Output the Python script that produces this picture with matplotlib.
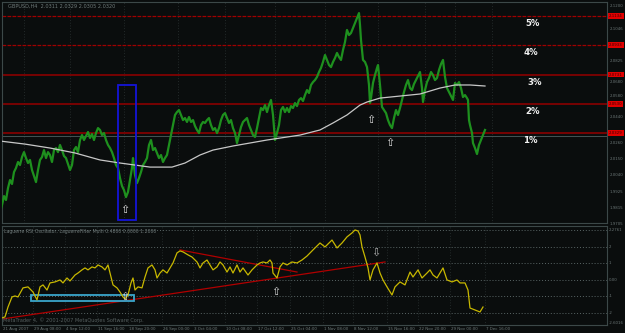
import matplotlib
matplotlib.use("Agg")
import matplotlib.pyplot as plt
from matplotlib.patches import Rectangle

# ---------------- data ----------------
bar_x = [0, 2, 4, 6, 8, 10, 12, 14, 16, 18, 20, 22, 24, 26, 28, 30, 32, 34, 36, 38, 40, 42, 44, 46, 48, 50,
         52, 54, 56, 58, 60, 62, 64, 66, 68, 70, 72, 74, 76, 78, 80, 82, 84, 86, 88, 90, 92, 94, 96, 98, 100,
         102, 104, 106, 108, 110, 112, 114, 116, 118, 120, 122, 124, 126, 128, 130, 132, 133, 135, 137, 139,
         141, 143, 145, 147, 149, 151, 153, 155, 157, 159, 161, 163, 165, 167, 169, 171, 173, 175, 177, 179,
         181, 183, 185, 187, 189, 191, 193, 195, 197, 199, 201, 203, 205, 207, 209, 211, 213, 215, 217, 219,
         221, 223, 225, 227, 229, 231, 233, 235, 237, 239, 241, 243, 245, 247, 249, 251, 253, 255, 257, 259,
         261, 263, 265, 267, 269, 271, 273, 275, 277, 279, 281, 283, 285, 287, 289, 291, 293, 295, 297, 299,
         301, 303, 305, 307, 309, 311, 313, 315, 317, 319, 321, 323, 325, 327, 329, 331, 333, 335, 337, 339,
         341, 343, 345, 347, 349, 351, 353, 355, 357, 359, 360, 361, 362, 363, 365, 367, 369, 370, 371, 373,
         375, 377, 378, 380, 382, 384, 386, 388, 390, 392, 394, 396, 398, 400, 402, 404, 406, 408, 410, 412,
         414, 416, 418, 420, 422, 423, 425, 427, 429, 431, 433, 435, 437, 439, 441, 443, 445, 447, 449, 451,
         453, 455, 457, 459, 461, 463, 465, 467, 468, 469, 470, 472, 473, 475, 477, 479, 481, 483, 485]
price = [1.9786, 1.9834, 1.9896, 1.9869, 1.9951, 2.0006, 1.9979, 2.0061, 2.0089, 2.0130, 2.0109, 2.0164,
         2.0198, 2.0157, 2.0123, 2.0144, 2.0075, 2.0034, 1.9992, 2.0075, 2.0144, 2.0164, 2.0212, 2.0157,
         2.0198, 2.0178, 2.0130, 2.0212, 2.0226, 2.0198, 2.0247, 2.0212, 2.0171, 2.0157, 2.0116, 2.0075,
         2.0109, 2.0212, 2.0233, 2.0198, 2.0281, 2.0315, 2.0281, 2.0308, 2.0336, 2.0295, 2.0322, 2.0281,
         2.0329, 2.0363, 2.0350, 2.0315, 2.0329, 2.0281, 2.0247, 2.0226, 2.0198, 2.0157, 2.0109, 2.0089,
         2.0020, 1.9965, 1.9937, 1.9889, 1.9924, 2.0006, 2.0089, 2.0157, 2.0040, 1.9985, 2.0020, 2.0061,
         2.0109, 2.0130, 2.0157, 2.0247, 2.0281, 2.0212, 2.0226, 2.0192, 2.0157, 2.0178, 2.0130, 2.0157,
         2.0178, 2.0247, 2.0315, 2.0384, 2.0453, 2.0473, 2.0487, 2.0453, 2.0418, 2.0432, 2.0405, 2.0439,
         2.0405, 2.0418, 2.0377, 2.0350, 2.0329, 2.0384, 2.0405, 2.0398, 2.0418, 2.0432, 2.0384, 2.0350,
         2.0363, 2.0329, 2.0363, 2.0418, 2.0453, 2.0466, 2.0432, 2.0398, 2.0418, 2.0363, 2.0329, 2.0260,
         2.0315, 2.0370, 2.0405, 2.0418, 2.0432, 2.0384, 2.0350, 2.0315, 2.0302, 2.0363, 2.0432, 2.0501,
         2.0487, 2.0521, 2.0473, 2.0521, 2.0556, 2.0453, 2.0281, 2.0329, 2.0384, 2.0487, 2.0508, 2.0473,
         2.0501, 2.0473, 2.0514, 2.0501, 2.0535, 2.0514, 2.0556, 2.0569, 2.0549, 2.0590, 2.0624, 2.0604,
         2.0659, 2.0679, 2.0693, 2.0714, 2.0748, 2.0776, 2.0817, 2.0865, 2.0831, 2.0796, 2.0782, 2.0817,
         2.0844, 2.0879, 2.0851, 2.0831, 2.0899, 2.0954, 2.1037, 2.1002, 2.1016, 2.1050, 2.1085, 2.1119,
         2.1153, 2.1071, 2.0968, 2.0899, 2.0831, 2.0817, 2.0782, 2.0659, 2.0535, 2.0569, 2.0673, 2.0727,
         2.0776, 2.0796, 2.0659, 2.0508, 2.0487, 2.0466, 2.0418, 2.0384, 2.0363, 2.0432, 2.0487, 2.0453,
         2.0501, 2.0556, 2.0611, 2.0659, 2.0693, 2.0638, 2.0624, 2.0666, 2.0693, 2.0721, 2.0748, 2.0638,
         2.0542, 2.0624, 2.0679, 2.0707, 2.0748, 2.0727, 2.0693, 2.0707, 2.0762, 2.0803, 2.0831, 2.0714,
         2.0638, 2.0611, 2.0583, 2.0556, 2.0673, 2.0659, 2.0679, 2.0638, 2.0576, 2.0590, 2.0569, 2.0556,
         2.0418, 2.0384, 2.0329, 2.0260, 2.0226, 2.0185, 2.0247, 2.0281, 2.0315, 2.0350]

ma_x = [0, 25, 50, 75, 100, 120, 135, 150, 172, 185, 200, 213, 233, 267, 300, 320, 333, 347, 360, 367,
        380, 400, 420, 440, 455, 470, 485]
ma_price = [2.0274, 2.0253, 2.0226, 2.0192, 2.0144, 2.0123, 2.0109, 2.0095, 2.0095, 2.0123, 2.0178, 2.0212,
            2.0240, 2.0281, 2.0315, 2.0350, 2.0398, 2.0453, 2.0521, 2.0542, 2.0569, 2.0583, 2.0597, 2.0638,
            2.0659, 2.0659, 2.0652]

pct_labels = ["1%", "2%", "3%", "4%", "5%"]
pct_levels = [2.0329, 2.0530, 2.0731, 2.0933, 2.1134]

osc_x = [2, 5, 8, 12, 15, 18, 23, 28, 33, 37, 40, 43, 47, 50, 55, 60, 63, 67, 70, 75, 78, 82, 85, 88, 92,
         95, 98, 102, 105, 108, 110, 113, 117, 120, 123, 125, 128, 131, 133, 135, 138, 142, 145, 148, 152,
         155, 157, 160, 163, 167, 170, 173, 177, 180, 183, 188, 192, 197, 200, 203, 207, 210, 213, 217, 220,
         223, 227, 230, 233, 237, 240, 243, 248, 252, 257, 260, 263, 267, 270, 272, 273, 277, 280, 283, 287,
         292, 297, 302, 307, 313, 320, 325, 332, 337, 342, 347, 352, 355, 358, 360, 362, 365, 368, 370, 373,
         377, 380, 383, 387, 392, 395, 400, 405, 410, 413, 418, 422, 427, 430, 433, 437, 440, 443, 447, 452,
         457, 460, 465, 468, 470, 475, 480, 483]
osc = [-2.30, -2.24, -1.64, -1.03, -0.97, -1.03, -0.48, -0.42, -0.73, -1.21, -0.42, -0.30, -0.61, -0.18,
       -0.12, 0.00, -0.18, 0.12, -0.06, 0.30, 0.42, 0.61, 0.73, 0.61, 0.79, 0.73, 0.91, 0.79, 0.61, 0.91,
       0.42, -0.30, -0.48, -0.73, -1.03, -1.15, -0.91, -0.18, 0.12, -0.61, -0.42, -0.48, 0.18, 0.73, 0.91,
       0.61, 0.12, 0.42, 0.61, 0.42, 0.73, 1.03, 1.64, 1.76, 1.70, 1.52, 1.39, 1.09, 0.73, 1.03, 1.21, 0.91,
       0.61, 0.79, 1.09, 0.91, 0.48, 0.79, 0.42, 0.91, 0.48, 0.73, 0.30, 0.61, 0.91, 1.03, 1.09, 1.03, 1.21,
       1.03, 0.42, 0.12, 0.79, 1.03, 0.91, 1.09, 1.03, 1.21, 1.45, 1.82, 2.24, 2.00, 2.42, 1.94, 2.24, 2.61,
       2.85, 3.03, 2.97, 2.73, 2.00, 1.39, 0.73, 0.00, 0.61, 1.03, 0.42, 0.00, -0.42, -0.91, -0.42, -0.12,
       -0.30, 0.48, 0.18, 0.61, 0.12, 0.42, 0.61, 0.30, 0.12, 0.42, 0.73, 0.00, -0.12, 0.00, -0.18, -0.18,
       -0.61, -1.70, -1.82, -1.94, -1.64]
osc_levels = [3.0, 2.0, 1.0, 0.0, -1.0, -2.0]
osc_level_labels = ["2.2761", "2", "1", "0.00", "-1", "-2"]

trend1_x = [3, 385]
trend1_y = [-2.36, 1.09]
trend2_x = [180, 297]
trend2_y = [1.82, 0.48]

time_x = [2, 33, 65, 97, 128, 162, 193, 225, 257, 290, 323, 353, 387, 418, 450, 485]
time_labels = ["21 Aug 2007", "29 Aug 08:00", "4 Sep 12:00", "11 Sep 16:00", "18 Sep 20:00",
               "26 Sep 00:00", "3 Oct 04:00", "10 Oct 08:00", "17 Oct 12:00", "25 Oct 04:00",
               "1 Nov 08:00", "8 Nov 12:00", "15 Nov 16:00", "22 Nov 20:00", "29 Nov 00:00", "7 Dec 16:00"]

price_ticks = [2.1200, 2.1046, 2.0825, 2.0680, 2.0580, 2.0440, 2.0260, 2.0150, 2.0040, 1.9925,
               1.9815, 1.9705]

# ---------------- style ----------------
W, H = 625, 333
BG = "#0a0d0d"
GRID = "#3a4444"
FRAME = "#3c4848"

fig = plt.figure(figsize=(W / 100, H / 100), dpi=100, facecolor=BG)


def ax_px(x0, y0, x1, y1):
    return fig.add_axes([x0 / W, 1 - y1 / H, (x1 - x0) / W, (y1 - y0) / H])


# main panel
ax = ax_px(2, 2, 607, 223)
ax.set_facecolor(BG)
ax.set_xlim(2, 607)
ax.set_ylim(1.9711, 2.1229)
for s in ax.spines.values():
    s.set_color(FRAME)
    s.set_linewidth(0.8)
ax.set_xticks([])
ax.set_yticks([])

for gx in [24, 70, 124, 178, 225, 275, 325, 378, 425, 455, 492]:
    ax.axvline(gx, color=GRID, lw=0.5, ls=(0, (1, 3)), zorder=0)

for i, lv in enumerate(pct_levels):
    if i >= 3:
        ax.axhline(lv, color="#a00000", lw=0.9, ls=(0, (3, 1)), zorder=1)
    else:
        ax.axhline(lv, color="#8a0000", lw=1.2, zorder=1)
ax.axhline(2.0308, color="#4f5f5f", lw=0.6, zorder=1)

ax.plot(bar_x, price, color="#1e901e", lw=1.6, zorder=3)
ax.plot(ma_x, ma_price, color="#c8c8c8", lw=0.9, zorder=4)

ax.add_patch(Rectangle((118, 1.9731), 18, 2.0659 - 1.9731, fill=False, ec="#1414d8", lw=1.3, zorder=5))

for (ux, uy) in [(125, 1.9834), (371, 2.0453), (390, 2.0295)]:
    ax.annotate("⇧", (ux, uy), ha="center", va="top", color="#e0e0e0", fontsize=8, zorder=6)

pct_x = [530, 533, 535, 531, 533]
for lab, lv, px in zip(pct_labels, pct_levels, pct_x):
    ax.text(px, lv - 0.0052, lab, color="#f0f0f0", fontsize=6.2, fontweight="bold",
            ha="center", va="center", zorder=6)

fig.text(8 / W, 1 - 6 / H, "GBPUSD,H4  2.0311 2.0329 2.0305 2.0320", color="#6f7a7a",
         fontsize=3.6, va="center", ha="left")

# lower panel
ax2 = ax_px(2, 226, 607, 325)
ax2.set_facecolor(BG)
ax2.set_xlim(2, 607)
ax2.set_ylim(-2.73, 3.27)
for s in ax2.spines.values():
    s.set_color(FRAME)
    s.set_linewidth(0.8)
ax2.set_xticks([])
ax2.set_yticks([])
for lv in osc_levels:
    ax2.axhline(lv, color="#5a6666", lw=0.7, ls=(0, (1, 2)), zorder=0)
for gx in time_x[1:]:
    ax2.axvline(gx, color=GRID, lw=0.5, ls=(0, (1, 3)), zorder=0)

ax2.plot(trend1_x, trend1_y, color="#b00000", lw=0.9, zorder=2)
ax2.plot(trend2_x, trend2_y, color="#b00000", lw=0.9, zorder=2)
ax2.add_patch(Rectangle((31, -1.27), 103, 0.36, fill=False, ec="#3aa6cc", lw=1.3, zorder=3))
ax2.plot(osc_x, osc, color="#c8b800", lw=0.9, zorder=4)

ax2.annotate("⇧", (125, -0.73), ha="center", va="top", color="#d8d8d8", fontsize=8, zorder=6)
ax2.annotate("⇧", (276, -0.42), ha="center", va="top", color="#d8d8d8", fontsize=8, zorder=6)
ax2.annotate("⇩", (376, 1.33), ha="center", va="bottom", color="#b0b0b0", fontsize=8, zorder=6)

fig.text(4 / W, 1 - 231 / H, "Laguerre RSI Oscillator, LaguerreFilter Multi 0.4800 0.0000 1.2000",
         color="#6f7a7a", fontsize=3.3, va="center", ha="left")
fig.text(3 / W, 1 - 320 / H, "MetaTrader 4, © 2001-2007 MetaQuotes Software Corp.",
         color="#555f5f", fontsize=3.6, va="center", ha="left")

# right axis labels
def yfig_price(p):
    return 1 - (2 + (2.1229 - p) / (2.1229 - 1.9711) * 221) / H

for p in price_ticks:
    fig.text(610 / W, yfig_price(p), f"{p:.4f}", color="#6a7575", fontsize=2.8, va="center", ha="left")
for lv in pct_levels:
    fig.text(609 / W, yfig_price(lv), f"{lv:.4f}", color="#3a0000", fontsize=2.8, va="center",
             ha="left", bbox=dict(boxstyle="square,pad=0.2", fc="#e00000", ec="none"))

def yfig_osc(v):
    return 1 - (226 + (3.27 - v) / 6.0 * 99) / H

for lv, lab in zip(osc_levels, osc_level_labels):
    fig.text(609 / W, yfig_osc(lv), lab, color="#6a7575", fontsize=2.8, va="center", ha="left")
fig.text(609 / W, yfig_osc(-2.6), "-2.6016", color="#6a7575", fontsize=2.8, va="center", ha="left")

# time axis
for tx, tl in zip(time_x, time_labels):
    fig.text((tx + 1) / W, 1 - 329 / H, tl, color="#6f7a7a", fontsize=2.9, va="center", ha="left")

fig.savefig("out.png", dpi=100, facecolor=BG)
